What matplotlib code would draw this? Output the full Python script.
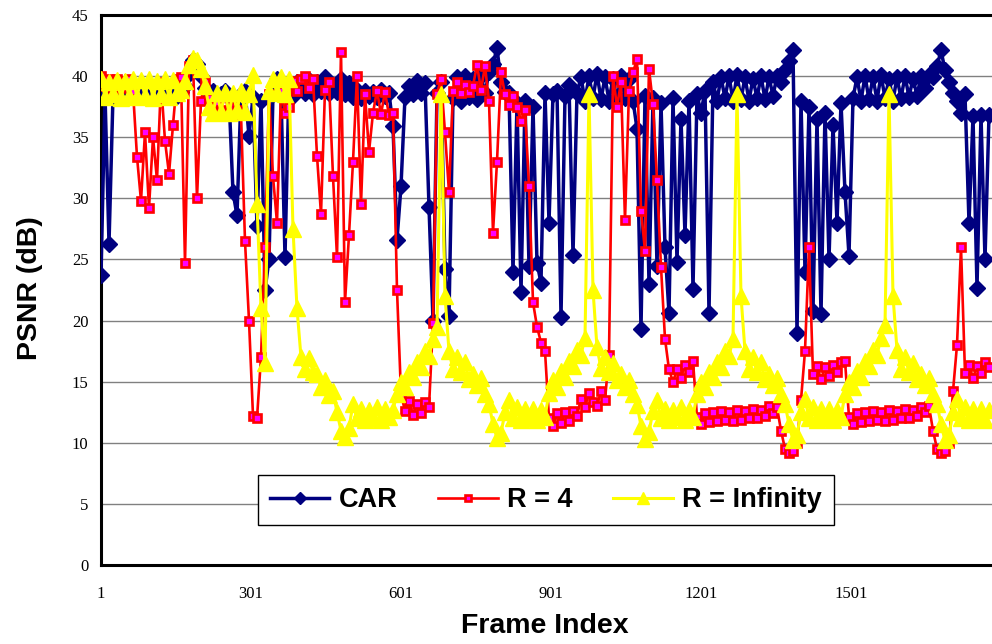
import matplotlib
matplotlib.use('Agg')
import matplotlib.pyplot as plt
import numpy as np

# PSNR (dB), one value every 8 frames starting at frame 1
car_psnr = [
    23.7, 38.5, 26.3, 38.4, 38.8, 38.3, 38.9, 38.4, 38.7, 38.3,
    38.8, 38.4, 38.9, 38.3, 38.7, 38.5, 38.9, 38.3, 38.8, 38.4,
    38.7, 39.2, 40.2, 41.3, 41.0, 40.0, 39.0, 38.2, 38.8, 38.4,
    38.5, 38.8, 38.3, 30.5, 28.6, 38.5, 38.8, 35.1, 38.3, 27.7,
    38.0, 22.5, 25.0, 38.5, 39.8, 38.6, 25.2, 39.5, 38.4, 39.5,
    39.0, 38.6, 39.7, 38.5, 39.5, 38.8, 39.9, 38.6, 39.3, 38.7,
    39.8, 38.5, 39.4, 38.3, 38.9, 38.2, 38.8, 38.4, 38.7, 38.3,
    38.9, 38.4, 38.6, 35.9, 26.6, 31.0, 38.3, 39.2, 38.5, 39.6,
    38.6, 39.4, 29.3, 20.0, 38.6, 39.5, 24.2, 20.4, 38.2, 39.9,
    38.0, 40.0, 38.3, 39.8, 38.1, 40.0, 38.6, 40.3, 41.0, 42.3,
    39.5, 38.7, 38.6, 24.0, 37.8, 22.3, 38.0, 24.5, 37.5, 24.7,
    23.1, 38.6, 28.0, 38.5, 38.8, 20.3, 38.4, 39.3, 25.4, 38.6,
    39.9, 38.0, 40.0, 38.2, 40.2, 38.1, 39.9, 38.0, 39.8, 38.1,
    40.0, 38.2, 39.8, 38.0, 35.7, 19.3, 38.4, 23.0, 38.2, 24.5,
    37.8, 26.0, 20.6, 38.2, 24.8, 36.5, 27.0, 38.0, 22.6, 38.5,
    37.0, 38.8, 20.6, 39.5, 38.0, 39.9, 38.2, 40.0, 38.0, 40.1,
    38.1, 39.9, 38.0, 39.8, 38.2, 40.0, 38.1, 39.9, 38.4, 40.0,
    39.5, 40.5, 41.2, 42.1, 19.0, 38.0, 24.0, 37.5, 20.8, 36.5,
    20.5, 37.0, 25.0, 36.0, 28.0, 37.8, 30.5, 25.3, 38.2, 39.9,
    38.0, 40.0, 38.1, 39.9, 38.0, 40.1, 38.2, 39.8, 38.0, 39.9,
    38.2, 40.0, 38.3, 39.8, 38.4, 40.0, 39.0, 40.1, 39.9, 40.8,
    42.1, 40.5, 39.5, 38.6, 38.0, 37.0, 38.5, 28.0, 36.7, 22.7,
    36.8, 25.0, 36.8,
]

r4_psnr = [
    40.0, 39.2, 39.8, 38.9, 39.8, 39.0, 39.6, 39.8, 38.8, 33.4,
    29.8, 35.4, 29.2, 35.0, 31.5, 39.5, 34.7, 32.0, 36.0, 39.8,
    39.9, 24.7, 40.8, 41.3, 30.0, 38.0, 39.5, 38.2, 37.3, 37.8,
    37.2, 38.4, 37.0, 37.5, 37.2, 36.9, 26.5, 20.0, 12.2, 12.0,
    17.0, 26.0, 38.5, 31.8, 28.0, 38.8, 37.0, 37.5, 39.6, 38.8,
    39.8, 40.0, 39.0, 39.8, 33.5, 28.7, 38.9, 39.5, 31.8, 25.2,
    42.0, 21.5, 27.0, 33.0, 40.0, 29.5, 38.5, 33.8, 37.0, 38.8,
    36.9, 38.7, 36.8, 37.0, 22.5, 14.0, 12.6, 13.4, 12.3, 13.2,
    12.4, 13.3, 12.9, 19.8, 38.5, 39.8, 35.4, 30.5, 38.8, 39.5,
    38.6, 39.3, 38.7, 39.2, 40.9, 38.9, 40.8, 38.0, 27.2, 33.0,
    40.3, 38.5, 37.6, 38.4, 37.5, 36.3, 37.2, 31.0, 21.5, 19.5,
    18.2, 17.5, 12.0, 11.4, 12.4, 11.6, 12.5, 11.8, 12.6, 12.2,
    13.6, 12.9, 14.1, 13.3, 13.0, 14.2, 13.5, 17.2, 40.0, 37.5,
    39.5, 28.2, 38.8, 40.3, 41.4, 29.0, 25.7, 40.6, 37.7, 31.5,
    24.4, 18.5, 16.0, 15.0, 16.0, 15.3, 16.4, 15.8, 16.7, 12.1,
    11.5, 12.4, 11.7, 12.5, 11.8, 12.6, 11.9, 12.5, 11.8, 12.7,
    11.9, 12.6, 12.0, 12.8, 12.0, 12.7, 12.2, 13.0, 12.4, 12.9,
    11.0, 9.5, 9.2, 9.3, 10.0, 13.5, 17.5, 26.0, 15.6, 16.3,
    15.2, 16.2, 15.5, 16.4, 15.8, 16.6, 16.7, 12.1, 11.5, 12.4,
    11.7, 12.5, 11.8, 12.6, 11.9, 12.5, 11.8, 12.7, 11.9, 12.6,
    12.0, 12.8, 12.0, 12.7, 12.2, 12.9, 12.5, 13.0, 11.0, 9.5,
    9.2, 9.3, 10.0, 14.2, 18.0, 26.0, 15.7, 16.4, 15.3, 16.3,
    15.7, 16.6, 16.2,
]

rinf_psnr = [
    39.8, 38.3, 39.5, 38.5, 39.7, 38.2, 39.6, 38.4, 39.8, 38.3,
    39.7, 38.4, 39.8, 38.2, 39.6, 38.5, 39.8, 38.3, 39.7, 38.6,
    38.9, 39.6, 40.9, 41.5, 41.3, 40.6, 39.2, 37.5, 37.0, 38.6,
    37.1, 38.7, 37.0, 38.6, 37.2, 38.8, 37.1, 38.5, 40.1, 29.5,
    21.0, 16.5, 38.8, 39.8, 38.6, 39.9, 38.5, 39.8, 27.5, 21.0,
    17.0, 16.0, 16.9, 15.8, 15.6, 14.6, 15.1, 13.9, 14.2, 12.5,
    11.0, 10.5, 11.2, 13.2, 12.0, 12.8, 11.9, 12.7, 12.0, 12.9,
    11.9, 12.8, 12.1, 12.7, 14.0, 15.0, 14.6, 15.8, 15.4, 16.6,
    16.2, 17.5, 17.1, 18.5, 19.5, 38.5, 22.0, 17.5, 16.0, 17.0,
    15.8, 16.6, 15.2, 15.6, 14.7, 15.3, 14.0, 13.2, 11.5, 10.4,
    10.8, 12.5, 13.5, 12.0, 12.9, 11.9, 12.8, 12.0, 12.8, 11.9,
    12.7, 12.1, 14.1, 15.1, 14.6, 15.9, 15.4, 16.7, 16.3, 17.6,
    17.2, 18.6, 38.5, 22.5, 17.8, 16.1, 17.0, 15.8, 16.5, 15.1,
    15.6, 14.6, 15.1, 14.0, 13.1, 11.4, 10.3, 10.9, 12.6, 13.5,
    12.0, 12.8, 11.9, 12.7, 12.1, 12.9, 11.9, 12.7, 12.1, 14.0,
    15.0, 14.6, 15.8, 15.4, 16.6, 16.2, 17.5, 17.1, 18.5, 38.5,
    22.0, 17.5, 16.0, 17.0, 15.8, 16.6, 15.2, 15.6, 14.7, 15.3,
    14.0, 13.2, 11.5, 10.2, 10.6, 12.5, 13.6, 12.0, 12.9, 11.9,
    12.8, 12.0, 12.8, 11.9, 12.7, 12.1, 14.0, 15.0, 14.6, 15.9,
    15.4, 16.7, 16.3, 17.6, 17.2, 18.6, 19.6, 38.5, 22.0, 17.6,
    16.0, 17.0, 15.8, 16.5, 15.2, 15.6, 14.7, 15.3, 14.0, 13.2,
    11.5, 10.2, 10.6, 12.5, 13.6, 12.0, 12.9, 11.9, 12.8, 12.0,
    12.8, 11.9, 12.7,
]

frame_step = 8
frames = np.arange(len(car_psnr)) * frame_step + 1

x_ticks = [1, 301, 601, 901, 1201, 1501]
y_ticks = list(range(0, 46, 5))

fig = plt.figure(figsize=(9.92, 6.44), dpi=100)
ax = fig.add_axes([101 / 992, 79 / 644, 891 / 992, 550 / 644])

ax.plot(frames, car_psnr, color='#000080', lw=2.5, marker='D', ms=8,
        label='CAR', zorder=3)
ax.plot(frames, r4_psnr, color='#FF0000', lw=1.9, marker='s', ms=5.5,
        mfc='#FF00FF', mec='#FF0000', mew=1.9, label='R = 4', zorder=4)
ax.plot(frames, rinf_psnr, color='#FFFF00', lw=2.2, marker='^', ms=11,
        label='R = Infinity', zorder=5)

ax.set_xlim(1, 1783)
ax.set_ylim(0, 45)
ax.set_xticks(x_ticks)
ax.set_yticks(y_ticks)
ax.tick_params(length=0, labelsize=12)
ax.tick_params(axis='x', pad=15)
ax.tick_params(axis='y', pad=9)
for lab in ax.get_xticklabels() + ax.get_yticklabels():
    lab.set_fontfamily('Liberation Serif')

ax.yaxis.grid(True, color='#808080', lw=1)
ax.set_axisbelow(True)
ax.spines['right'].set_visible(False)
for side in ['left', 'bottom', 'top']:
    ax.spines[side].set_linewidth(2.2)
    ax.spines[side].set_color('black')

leg = ax.legend(loc='center', bbox_to_anchor=((546 - 101) / 891, (565 - 500) / 550),
                ncol=3, frameon=True, fancybox=False, framealpha=1,
                edgecolor='black', handlelength=2.2, handletextpad=0.35,
                columnspacing=1.5, borderpad=0.45, markerscale=0.75,
                prop={'family': 'Liberation Sans', 'weight': 'bold', 'size': 19.5})
leg.get_frame().set_linewidth(1)
leg.set_zorder(10)

fig.text(30 / 992, 1 - 288 / 644, 'PSNR (dB)', rotation=90, ha='center', va='center',
         fontsize=20.5, fontweight='bold', family='Liberation Sans')
fig.text(545 / 992, 1 - 626 / 644, 'Frame Index', ha='center', va='center',
         fontsize=20.5, fontweight='bold', family='Liberation Sans')

fig.savefig('out.png', dpi=100)
